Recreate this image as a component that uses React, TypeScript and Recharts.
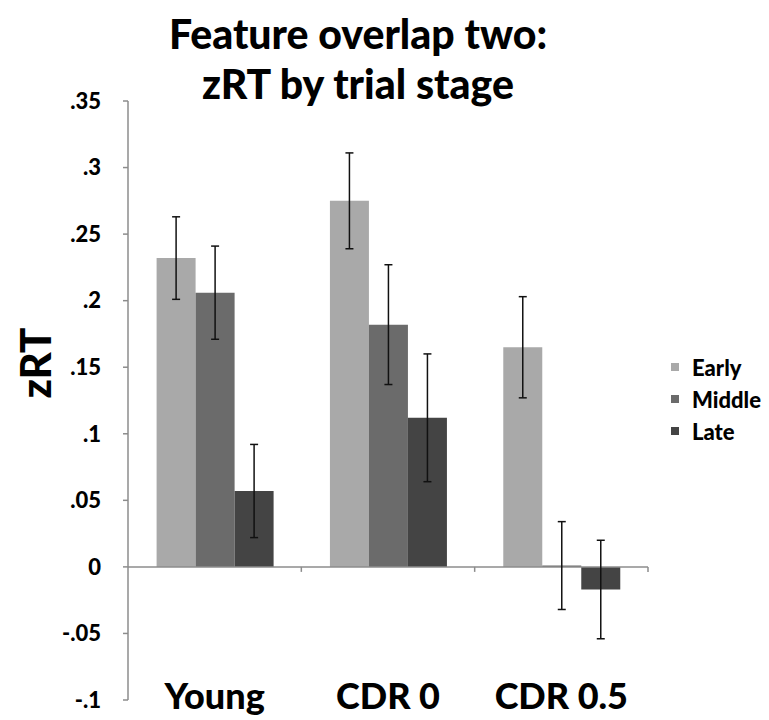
import { BarChart, Bar, XAxis, YAxis, ErrorBar, ReferenceLine } from "recharts";

const groups = ["Young", "CDR 0", "CDR 0.5"];
const stages = ["Early", "Middle", "Late"];
const early = [0.232, 0.275, 0.165];
const middle = [0.206, 0.182, 0.001];
const late = [0.057, 0.112, -0.017];
const earlyErr = [0.031, 0.036, 0.038];
const middleErr = [0.035, 0.045, 0.033];
const lateErr = [0.035, 0.048, 0.037];
const yTicks = [-0.1, -0.05, 0, 0.05, 0.1, 0.15, 0.2, 0.25, 0.3, 0.35];

const colors = ["#a9a9a9", "#6b6b6b", "#444444"];
const font = "Lato, 'Open Sans', sans-serif";

const data = groups.map((g, i) => ({
  group: g,
  early: early[i],
  middle: middle[i],
  late: late[i],
  earlyErr: earlyErr[i],
  middleErr: middleErr[i],
  lateErr: lateErr[i],
}));

const fmt = (v: number) => (v === 0 ? "0" : String(v).replace("0.", "."));

// zero line with small tick marks between the categories
const ZeroLine = (props: any) => {
  const { x1, x2, y1 } = props;
  const n = groups.length;
  const marks = [];
  for (let i = 1; i <= n; i++) {
    const x = x1 + ((x2 - x1) * i) / n;
    marks.push(<line key={i} x1={x} x2={x} y1={y1} y2={y1 + 5} stroke="#8c8c8c" strokeWidth={1.5} />);
  }
  return (
    <g>
      <line x1={x1} x2={x2} y1={y1} y2={y1} stroke="#8c8c8c" strokeWidth={1.5} />
      {marks}
    </g>
  );
};

const GroupTick = ({ x, y, payload }: any) => (
  <text x={x} y={y} dy={1} textAnchor="middle" fontFamily={font} fontWeight={900} fontSize={36} fill="#000">
    {payload.value}
  </text>
);

export default function App() {
  return (
    <div style={{ position: "absolute", left: 0, top: 0, width: 769, height: 720, background: "#fff", fontFamily: font }}>
      <div
        style={{
          position: "absolute",
          left: 0,
          width: 716,
          top: 9,
          textAlign: "center",
          fontWeight: 900,
          fontSize: 41,
          lineHeight: "50px",
          color: "#000",
        }}
      >
        Feature overlap two:
        <br />
        zRT by trial stage
      </div>
      <div
        style={{
          position: "absolute",
          left: 35,
          top: 363,
          transform: "translate(-50%, -50%) rotate(-90deg)",
          fontWeight: 900,
          fontSize: 42,
          color: "#000",
        }}
      >
        zRT
      </div>
      <BarChart
        width={769}
        height={720}
        data={data}
        margin={{ top: 101, right: 121, bottom: 0, left: 0 }}
        barCategoryGap="16.5%"
        barGap={0}
      >
        <XAxis dataKey="group" axisLine={false} tickLine={false} height={20} tick={<GroupTick />} interval={0} />
        <YAxis
          width={128}
          domain={[-0.1, 0.35]}
          ticks={yTicks}
          tickFormatter={fmt}
          axisLine={{ stroke: "#8c8c8c", strokeWidth: 1.5 }}
          tickLine={{ stroke: "#8c8c8c", strokeWidth: 1.5 }}
          tickSize={5}
          tickMargin={22}
          tick={{ fill: "#000", fontSize: 22, fontWeight: 900, fontFamily: font }}
          allowDataOverflow
        />
        <ReferenceLine y={0} shape={<ZeroLine />} />
        <Bar dataKey="early" fill={colors[0]} isAnimationActive={false}>
          <ErrorBar dataKey="earlyErr" width={4} stroke="#111" strokeWidth={1.5} />
        </Bar>
        <Bar dataKey="middle" fill={colors[1]} isAnimationActive={false}>
          <ErrorBar dataKey="middleErr" width={4} stroke="#111" strokeWidth={1.5} />
        </Bar>
        <Bar dataKey="late" fill={colors[2]} isAnimationActive={false}>
          <ErrorBar dataKey="lateErr" width={4} stroke="#111" strokeWidth={1.5} />
        </Bar>
      </BarChart>
      <div style={{ position: "absolute", left: 671, top: 351 }}>
        {stages.map((s, i) => (
          <div key={s} style={{ display: "flex", alignItems: "center", height: 32 }}>
            <span style={{ width: 8, height: 8, background: colors[i], display: "inline-block", marginRight: 13 }} />
            <span style={{ fontWeight: 900, fontSize: 22, color: "#000" }}>{s}</span>
          </div>
        ))}
      </div>
    </div>
  );
}
